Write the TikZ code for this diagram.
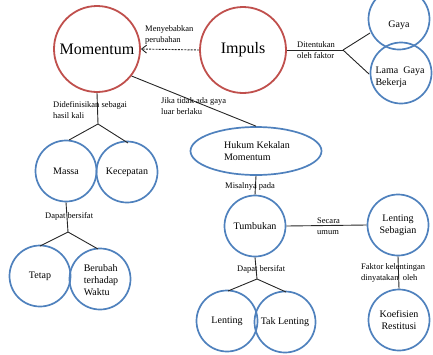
\documentclass[tikz,border=0pt]{standalone}
\usepackage{fontspec}
\setmainfont{Liberation Serif}
\usetikzlibrary{shapes.geometric,arrows.meta}
\definecolor{cred}{RGB}{192,80,77}
\definecolor{cblue}{RGB}{79,129,189}
\begin{document}
\begin{tikzpicture}[x=1pt,y=-1pt,
  rc/.style={circle,draw=cred,line width=1.8pt,minimum size=86pt,inner sep=0pt,font=\fontsize{16}{19}\selectfont},
  bc/.style={circle,draw=cblue,line width=1.7pt,minimum size=61pt,inner sep=0pt,font=\fontsize{10}{12}\selectfont,align=center},
  ctext/.style={inner sep=0pt,font=\fontsize{10}{12}\selectfont,align=left},
  lab/.style={anchor=west,inner sep=0pt,font=\fontsize{8.5}{11}\selectfont,align=left},
  conn/.style={draw=black!85,line width=0.9pt}]
\useasboundingbox (0,0) rectangle (433,354);
\clip (0,0) rectangle (433,354);
% red circles
\node[rc] (mom) at (97,49) {Momentum};
\node[rc] (imp) at (243,50) {Impuls};
% blue circles
\node[bc] (gaya) at (399,19) {};
\node[ctext] (gayat) at (399,25) {Gaya};
\node[bc] (lama) at (401,73) {};
\node[ctext] (lamat) at (400,77) {Lama\ \ Gaya\\Bekerja};
\node[bc] (massa) at (66,171) {Massa};
\node[bc] (kec) at (127,172) {Kecepatan};
\node[bc] (tetap) at (40,276) {Tetap};
\node[bc] (berubah) at (100,279) {};
\node[ctext] (berubaht) at (101,280) {Berubah\\terhadap\\Waktu};
\node[ellipse,draw=cblue,line width=1.7pt,minimum width=131pt,minimum height=48pt,inner sep=0pt] (hk) at (256,151) {};
\node[ctext] (hkt) at (257,151) {Hukum Kekalan\\Momentum};
\node[bc] (tumb) at (255,226) {Tumbukan};
\node[bc] (ls) at (398,225) {Lenting\\Sebagian};
\node[bc] (lent) at (227,321) {Lenting};
\node[bc] (tak) at (285,322) {Tak Lenting};
\node[bc] (koef) at (399,320) {Koefisien\\Restitusi};
% junction coordinates
\coordinate (j1) at (343,50);
\coordinate (j2) at (98,124);
\coordinate (j3) at (68,232);
\coordinate (j4) at (257,279);
% connectors
\draw[conn,dash pattern=on 2pt off 1.2pt,-{Straight Barb[length=5pt,width=8pt]}] (imp.west) -- (mom.east);
\draw[conn] (imp.east) -- (j1);
\draw[conn] (j1) -- (370,33);
\draw[conn] (j1) -- (369,74);
\draw[conn] (mom.south) -- (j2);
\draw[conn] (j2) -- (69,140);
\draw[conn] (j2) -- (128,143);
\draw[conn] (mom.-38) -- (hk.north);
\draw[conn] (massa.south) -- (j3);
\draw[conn] (j3) -- (40,246);
\draw[conn] (j3) -- (98,249);
\draw[conn] (hk.south) -- (tumb.north);
\draw[conn] (tumb.east) -- (ls.west);
\draw[conn] (tumb.south) -- (j4);
\draw[conn] (j4) -- (228,291);
\draw[conn] (j4) -- (286,292);
\draw[conn] (ls.south) -- (koef.north);
% labels
\node[lab] (l1) at (145,35) {Menyebabkan\\perubahan};
\node[lab] (l2) at (297,50) {Ditentukan\\oleh faktor};
\node[lab] (l3) at (53,110) {Didefinisikan sebagai\\hasil kali};
\node[lab] (l4) at (161,106) {Jika tidak ada gaya\\luar berlaku};
\node[lab] (l5) at (45,216) {Dapat bersifat};
\node[lab] (l6) at (225,186) {Misalnya pada};
\node[lab] (l7) at (317,226) {Secara\\umum};
\node[lab] (l8) at (237,269) {Dapat bersifat};
\node[lab] (l9) at (361,273) {Faktor kelentingan\\dinyatakan\ \ oleh};
\end{tikzpicture}
\end{document}
